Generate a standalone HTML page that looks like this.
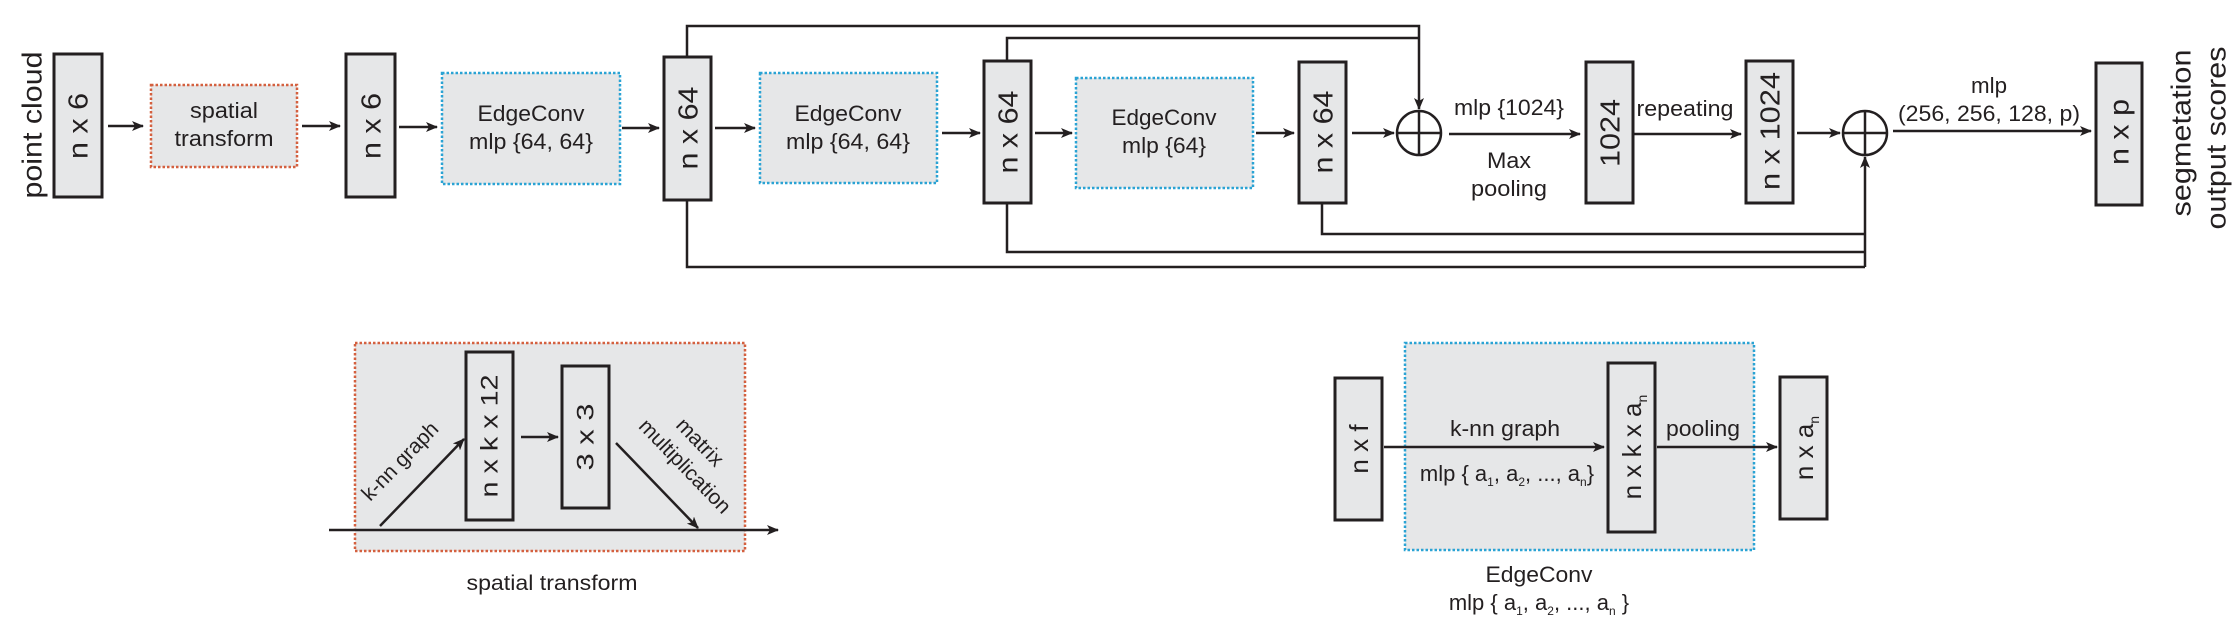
<!DOCTYPE html>
<html><head><meta charset="utf-8"><style>
html,body{margin:0;padding:0;background:#fff;}
svg{display:block;}
text{font-family:"Liberation Sans",sans-serif;fill:#231f20;}
</style></head><body>
<svg width="2233" height="623" viewBox="0 0 2233 623" xmlns="http://www.w3.org/2000/svg">
<defs>
<marker id="a" viewBox="0 0 12 10" refX="11" refY="5" markerWidth="12" markerHeight="10" markerUnits="userSpaceOnUse" orient="auto">
<path d="M0,0 L12,5 L0,10 L3,5 z" fill="#231f20"/>
</marker>
</defs>
<g stroke="#231f20" stroke-width="2.5" fill="none">
<!-- top row arrows -->
<line x1="108" y1="126" x2="143" y2="126" marker-end="url(#a)"/>
<line x1="302" y1="126" x2="340" y2="126" marker-end="url(#a)"/>
<line x1="399" y1="127" x2="437" y2="127" marker-end="url(#a)"/>
<line x1="622" y1="128" x2="659" y2="128" marker-end="url(#a)"/>
<line x1="715" y1="128" x2="755" y2="128" marker-end="url(#a)"/>
<line x1="942" y1="133" x2="980" y2="133" marker-end="url(#a)"/>
<line x1="1035" y1="133" x2="1072" y2="133" marker-end="url(#a)"/>
<line x1="1256" y1="133" x2="1294" y2="133" marker-end="url(#a)"/>
<line x1="1352" y1="133" x2="1394" y2="133" marker-end="url(#a)"/>
<line x1="1449" y1="134" x2="1580" y2="134" marker-end="url(#a)"/>
<line x1="1634" y1="134" x2="1741" y2="134" marker-end="url(#a)"/>
<line x1="1797" y1="133" x2="1840" y2="133" marker-end="url(#a)"/>
<line x1="1893" y1="131" x2="2091" y2="131" marker-end="url(#a)"/>
<!-- skip connections top -->
<polyline points="687,57 687,26 1419,26 1419,109" marker-end="url(#a)"/>
<polyline points="1007,61 1007,38 1419,38"/>
<!-- bottom -->
<polyline points="687,200 687,267 1865,267"/>
<polyline points="1007,203 1007,252 1865,252"/>
<polyline points="1322,203 1322,234 1865,234"/>
<line x1="1865" y1="267" x2="1865" y2="157" marker-end="url(#a)"/>
<!-- circles -->
<circle cx="1419" cy="133" r="22" fill="#fff"/>
<line x1="1397" y1="133" x2="1441" y2="133"/><line x1="1419" y1="111" x2="1419" y2="155"/>
<circle cx="1865" cy="133" r="22" fill="#fff"/>
<line x1="1843" y1="133" x2="1887" y2="133"/><line x1="1865" y1="111" x2="1865" y2="155"/>
</g>
<!-- dotted boxes top -->
<g stroke-width="2.5" stroke-dasharray="2.5,2" fill="#e6e7e8">
<rect x="151" y="85" width="146" height="82" stroke="#d4603f"/>
<rect x="442" y="73" width="178" height="111" stroke="#2aa3d4"/>
<rect x="760" y="73" width="177" height="110" stroke="#2aa3d4"/>
<rect x="1076" y="78" width="177" height="110" stroke="#2aa3d4"/>
</g>
<!-- solid boxes top -->
<g stroke="#231f20" stroke-width="3" fill="#e6e7e8">
<rect x="54" y="54" width="48" height="143"/>
<rect x="346" y="54" width="49" height="143"/>
<rect x="664" y="57" width="47" height="143"/>
<rect x="984" y="61" width="47" height="142"/>
<rect x="1299" y="62" width="47" height="141"/>
<rect x="1586" y="62" width="47" height="141"/>
<rect x="1746" y="61" width="47" height="142"/>
<rect x="2096" y="63" width="46" height="142"/>
</g>
<!-- box labels rotated -->
<g font-size="28" text-anchor="middle" dominant-baseline="central">
<text transform="translate(32,125) rotate(-90)" textLength="147" lengthAdjust="spacingAndGlyphs">point cloud</text>
<text transform="translate(78,126) rotate(-90)" textLength="66" lengthAdjust="spacingAndGlyphs">n x 6</text>
<text transform="translate(371,126) rotate(-90)" textLength="66" lengthAdjust="spacingAndGlyphs">n x 6</text>
<text transform="translate(688,128) rotate(-90)" textLength="83" lengthAdjust="spacingAndGlyphs">n x 64</text>
<text transform="translate(1008,132) rotate(-90)" textLength="83" lengthAdjust="spacingAndGlyphs">n x 64</text>
<text transform="translate(1323,132) rotate(-90)" textLength="83" lengthAdjust="spacingAndGlyphs">n x 64</text>
<text transform="translate(1610,133) rotate(-90)" textLength="68" lengthAdjust="spacingAndGlyphs">1024</text>
<text transform="translate(1770,131) rotate(-90)" textLength="118" lengthAdjust="spacingAndGlyphs">n x 1024</text>
<text transform="translate(2119,132) rotate(-90)" textLength="66" lengthAdjust="spacingAndGlyphs">n x p</text>
<text transform="translate(2181,133) rotate(-90)" textLength="167" lengthAdjust="spacingAndGlyphs">segmetation</text>
<text transform="translate(2216,138) rotate(-90)" textLength="183" lengthAdjust="spacingAndGlyphs">output scores</text>
</g>
<!-- inner labels -->
<g font-size="22" text-anchor="middle">
<text x="224" y="118" textLength="68" lengthAdjust="spacingAndGlyphs">spatial</text>
<text x="224" y="146" textLength="99" lengthAdjust="spacingAndGlyphs">transform</text>
<text x="531" y="121" textLength="107" lengthAdjust="spacingAndGlyphs">EdgeConv</text>
<text x="531" y="149" textLength="124" lengthAdjust="spacingAndGlyphs">mlp {64, 64}</text>
<text x="848" y="121" textLength="107" lengthAdjust="spacingAndGlyphs">EdgeConv</text>
<text x="848" y="149" textLength="124" lengthAdjust="spacingAndGlyphs">mlp {64, 64}</text>
<text x="1164" y="125" textLength="105" lengthAdjust="spacingAndGlyphs">EdgeConv</text>
<text x="1164" y="153" textLength="84" lengthAdjust="spacingAndGlyphs">mlp {64}</text>
<text x="1509" y="115" textLength="110" lengthAdjust="spacingAndGlyphs">mlp {1024}</text>
<text x="1509" y="168" textLength="44" lengthAdjust="spacingAndGlyphs">Max</text>
<text x="1509" y="196" textLength="76" lengthAdjust="spacingAndGlyphs">pooling</text>
<text x="1685" y="116" textLength="97" lengthAdjust="spacingAndGlyphs">repeating</text>
<text x="1989" y="93" textLength="36" lengthAdjust="spacingAndGlyphs">mlp</text>
<text x="1989" y="121" textLength="182" lengthAdjust="spacingAndGlyphs">(256, 256, 128, p)</text>
</g>

<!-- bottom left: spatial transform -->
<rect x="355" y="343" width="390" height="208" fill="#e6e7e8" stroke="#d4603f" stroke-width="2.5" stroke-dasharray="2.5,2"/>
<g stroke="#231f20" stroke-width="2.5" fill="none">
<line x1="329" y1="530" x2="778" y2="530" marker-end="url(#a)"/>
<line x1="380" y1="526" x2="464" y2="439" marker-end="url(#a)"/>
<line x1="521" y1="437" x2="558" y2="437" marker-end="url(#a)"/>
<line x1="616" y1="443" x2="698" y2="528" marker-end="url(#a)"/>
</g>
<g stroke="#231f20" stroke-width="3" fill="#e6e7e8">
<rect x="466" y="352" width="47" height="168"/>
<rect x="562" y="366" width="47" height="142"/>
</g>
<g font-size="24" text-anchor="middle" dominant-baseline="central">
<text transform="translate(490,436) rotate(-90)" textLength="123" lengthAdjust="spacingAndGlyphs">n x k x 12</text>
<text transform="translate(586,437) rotate(-90)" textLength="67" lengthAdjust="spacingAndGlyphs">3 x 3</text>
</g>
<g font-size="21" text-anchor="middle">
<text transform="translate(405,466) rotate(-46)" textLength="100" lengthAdjust="spacingAndGlyphs">k-nn graph</text>
<text transform="translate(695,447) rotate(46)" textLength="58" lengthAdjust="spacingAndGlyphs">matrix</text>
<text transform="translate(680,471) rotate(46)" textLength="122" lengthAdjust="spacingAndGlyphs">multiplication</text>
<text x="552" y="590" textLength="171" lengthAdjust="spacingAndGlyphs">spatial transform</text>
</g>

<!-- bottom right: EdgeConv -->
<rect x="1405" y="343" width="349" height="207" fill="#e6e7e8" stroke="#2aa3d4" stroke-width="2.5" stroke-dasharray="2.5,2"/>
<g stroke="#231f20" stroke-width="2.5" fill="none">
<line x1="1384" y1="447" x2="1604" y2="447" marker-end="url(#a)"/>
<line x1="1657" y1="447" x2="1777" y2="447" marker-end="url(#a)"/>
</g>
<g stroke="#231f20" stroke-width="3" fill="#e6e7e8">
<rect x="1335" y="378" width="47" height="142"/>
<rect x="1608" y="363" width="47" height="169"/>
<rect x="1780" y="377" width="47" height="142"/>
</g>
<g font-size="26" text-anchor="middle" dominant-baseline="central">
<text transform="translate(1359,449) rotate(-90)">n x f</text>
<text transform="translate(1632,447) rotate(-90)">n x k x a<tspan font-size="14" dy="10">n</tspan></text>
<text transform="translate(1804,448) rotate(-90)">n x a<tspan font-size="14" dy="10">n</tspan></text>
</g>
<g font-size="22" text-anchor="middle">
<text x="1505" y="436" textLength="110" lengthAdjust="spacingAndGlyphs">k-nn graph</text>
<text x="1703" y="436" textLength="74" lengthAdjust="spacingAndGlyphs">pooling</text>
<text x="1507" y="481">mlp { a<tspan font-size="12" dy="5">1</tspan><tspan dy="-5">, a</tspan><tspan font-size="12" dy="5">2</tspan><tspan dy="-5">, ..., a</tspan><tspan font-size="12" dy="5">n</tspan><tspan dy="-5">}</tspan></text>
<text x="1539" y="582" textLength="107" lengthAdjust="spacingAndGlyphs">EdgeConv</text>
<text x="1539" y="610">mlp { a<tspan font-size="12" dy="5">1</tspan><tspan dy="-5">, a</tspan><tspan font-size="12" dy="5">2</tspan><tspan dy="-5">, ..., a</tspan><tspan font-size="12" dy="5">n</tspan><tspan dy="-5"> }</tspan></text>
</g>
</svg>
</body></html>
